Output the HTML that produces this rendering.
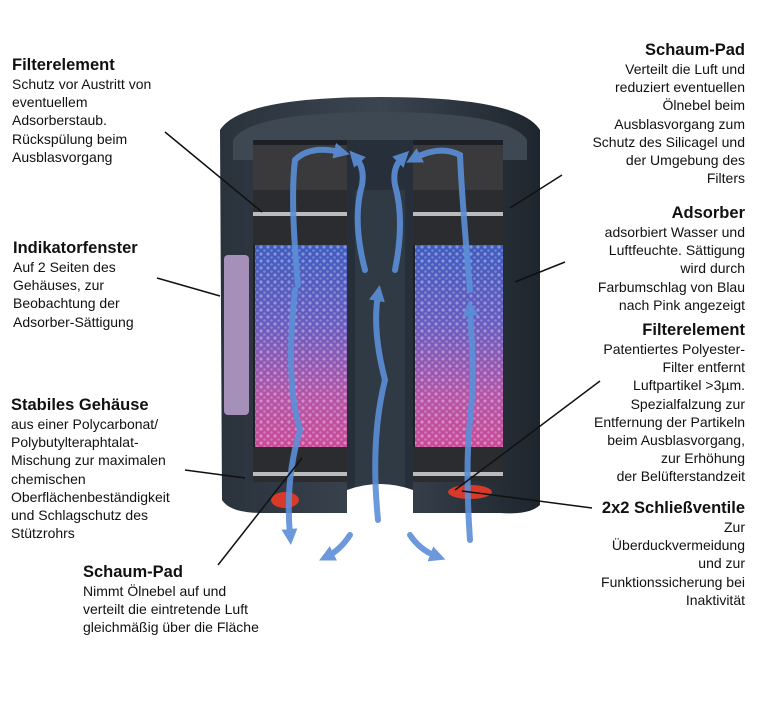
<!DOCTYPE html>
<html><head><meta charset="utf-8"><style>
html,body{margin:0;padding:0;background:#fff;width:767px;height:701px;overflow:hidden;position:relative}
.b{position:absolute;font-family:"Liberation Sans",sans-serif;color:#111;font-size:14px;line-height:18.2px;white-space:pre}
.b b{display:block;font-size:16.5px;line-height:20px}
.r{text-align:right;right:22px}
</style></head><body>
<svg width="767" height="701" style="position:absolute;left:0;top:0">
<defs>
<linearGradient id="bead" x1="0" y1="0" x2="0" y2="1">
<stop offset="0" stop-color="#3f5cc0"/><stop offset="0.4" stop-color="#6a5cc0"/><stop offset="0.75" stop-color="#b455a8"/><stop offset="1" stop-color="#c84a98"/></linearGradient>
<linearGradient id="body" x1="0" y1="0" x2="1" y2="0">
<stop offset="0" stop-color="#2a323c"/><stop offset="0.5" stop-color="#3b4550"/><stop offset="1" stop-color="#1e252d"/></linearGradient>
<pattern id="dots" width="7" height="7" patternUnits="userSpaceOnUse"><circle cx="2" cy="2" r="1.6" fill="#fff" opacity="0.35"/><circle cx="5.5" cy="5.5" r="1.3" fill="#fff" opacity="0.25"/></pattern>
<marker id="ah" markerUnits="userSpaceOnUse" markerWidth="16" markerHeight="16" refX="6" refY="8" orient="auto"><path d="M0,0 L16,8 L0,16 z" fill="#5b8fd8"/></marker>
</defs>
<path d="M220,130 Q240,97 380,97 Q520,97 540,130 L540,505 Q530,515 500,513 L262,513 Q230,513 222,500 Z" fill="url(#body)"/>
<path d="M233,140 Q250,112 380,112 Q510,112 527,140 L527,160 L233,160 Z" fill="#3d4852"/>
<rect x="224" y="255" width="25" height="160" rx="4" fill="#c4a8d8" opacity="0.8"/>
<rect x="253" y="140" width="94" height="340" fill="#1c2127"/>
<rect x="413" y="140" width="90" height="340" fill="#1c2127"/>
<rect x="253" y="145" width="94" height="45" fill="#3a3a3c"/>
<rect x="413" y="145" width="90" height="45" fill="#3a3a3c"/>
<rect x="253" y="190" width="94" height="55" fill="#2b2c30"/>
<rect x="413" y="190" width="90" height="55" fill="#2b2c30"/>
<rect x="253" y="212" width="94" height="4" fill="#bbb"/>
<rect x="413" y="212" width="90" height="4" fill="#bbb"/>
<rect x="255" y="245" width="92" height="202" fill="url(#bead)"/>
<rect x="415" y="245" width="88" height="202" fill="url(#bead)"/>
<rect x="255" y="245" width="92" height="202" fill="url(#dots)"/>
<rect x="415" y="245" width="88" height="202" fill="url(#dots)"/>
<rect x="253" y="447" width="94" height="35" fill="#2b2c30"/>
<rect x="413" y="447" width="90" height="35" fill="#2b2c30"/>
<rect x="253" y="472" width="94" height="4" fill="#bbb"/>
<rect x="413" y="472" width="90" height="4" fill="#bbb"/>
<rect x="347" y="140" width="66" height="370" fill="#27303a"/>
<rect x="355" y="190" width="50" height="320" fill="#303a45"/>
<path d="M347,515 L347,490 Q380,478 413,490 L413,515 Z" fill="#fff"/>
<ellipse cx="285" cy="500" rx="14" ry="8" fill="#d83a2a"/>
<ellipse cx="470" cy="492" rx="22" ry="7" fill="#d83a2a"/>
<g fill="none" stroke="#5b8fd8" stroke-width="6" stroke-linecap="round" opacity="0.9" marker-end="url(#ah)">
<path d="M298,285 Q290,200 295,160 Q310,145 340,152"/>
<path d="M470,290 Q462,200 460,155 Q440,145 415,158"/>
<path d="M365,270 Q352,220 362,185 Q365,168 356,158"/>
<path d="M395,270 Q405,220 395,185 Q392,168 402,158"/>
<path d="M378,520 Q370,440 385,380 Q372,330 378,295"/>
<path d="M295,290 Q285,380 300,430 Q285,480 290,535"/>
<path d="M470,540 Q465,470 470,420 Q475,380 470,310"/>
<path d="M350,535 Q340,550 328,556"/>
<path d="M410,535 Q420,550 436,556"/>
</g>
<g stroke="#111" stroke-width="1.5">
<line x1="165" y1="132" x2="262" y2="212"/>
<line x1="157" y1="278" x2="220" y2="296"/>
<line x1="185" y1="470" x2="245" y2="478"/>
<line x1="218" y1="565" x2="302" y2="458"/>
<line x1="562" y1="175" x2="510" y2="208"/>
<line x1="565" y1="262" x2="515" y2="282"/>
<line x1="600" y1="381" x2="455" y2="490"/>
<line x1="592" y1="508" x2="462" y2="491"/>
</g>
</svg>
<div class="b" style="left:12px;top:55px"><b>Filterelement</b>Schutz vor Austritt von
eventuellem
Adsorberstaub.
Rückspülung beim
Ausblasvorgang</div>
<div class="b" style="left:13px;top:238px"><b>Indikatorfenster</b>Auf 2 Seiten des
Gehäuses, zur
Beobachtung der
Adsorber-Sättigung</div>
<div class="b" style="left:11px;top:395px"><b>Stabiles Gehäuse</b>aus einer Polycarbonat/
Polybutylteraphtalat-
Mischung zur maximalen
chemischen
Oberflächenbeständigkeit
und Schlagschutz des
Stützrohrs</div>
<div class="b" style="left:83px;top:562px"><b>Schaum-Pad</b>Nimmt Ölnebel auf und
verteilt die eintretende Luft
gleichmäßig über die Fläche</div>
<div class="b r" style="top:40px"><b>Schaum-Pad</b>Verteilt die Luft und
reduziert eventuellen
Ölnebel beim
Ausblasvorgang zum
Schutz des Silicagel und
der Umgebung des
Filters</div>
<div class="b r" style="top:203px"><b>Adsorber</b>adsorbiert Wasser und
Luftfeuchte. Sättigung
wird durch
Farbumschlag von Blau
nach Pink angezeigt</div>
<div class="b r" style="top:320px"><b>Filterelement</b>Patentiertes Polyester-
Filter entfernt
Luftpartikel &gt;3µm.
Spezialfalzung zur
Entfernung der Partikeln
beim Ausblasvorgang,
zur Erhöhung
der Belüfterstandzeit</div>
<div class="b r" style="top:498px"><b>2x2 Schließventile</b>Zur
Überduckvermeidung
und zur
Funktionssicherung bei
Inaktivität</div>
</body></html>
